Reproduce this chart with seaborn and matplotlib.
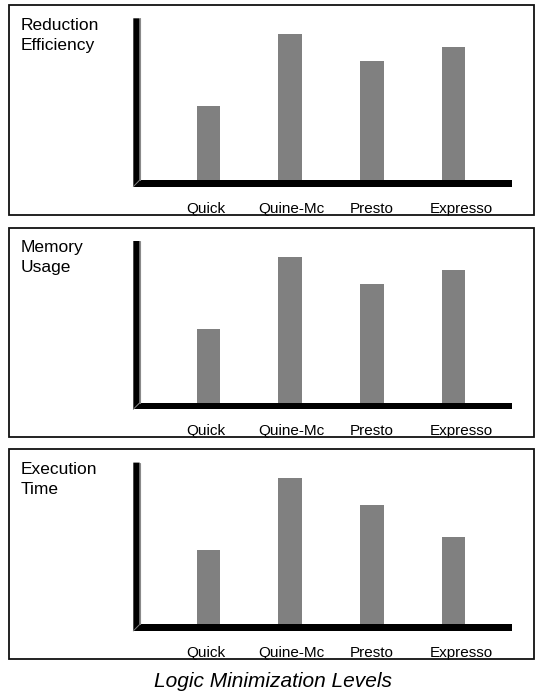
import matplotlib
matplotlib.use("Agg")
import matplotlib.pyplot as plt
from matplotlib.patches import Rectangle, Polygon
from matplotlib.lines import Line2D
from matplotlib.transforms import ScaledTranslation
import seaborn as sns
import pandas as pd

# ---- data -------------------------------------------------------------
levels = ["Quick", "Quine-Mc", "Presto", "Expresso"]
reduction_efficiency = [45.5, 90.5, 73.5, 82.0]
memory_usage = [45.5, 90.0, 73.5, 82.0]
execution_time = [46.0, 90.5, 73.5, 54.0]
panel_titles = ["Reduction\nEfficiency", "Memory\nUsage", "Execution\nTime"]
x_title = "Logic Minimization Levels"

# ---- style ------------------------------------------------------------
W, H = 535, 694
sns.set_theme(style="white")
plt.rcParams["font.family"] = ["Liberation Sans", "DejaVu Sans"]

BAR_GREY = "#808080"
INK = "#000000"

fig = plt.figure(figsize=(W / 100, H / 100), dpi=100)
fig.patch.set_facecolor("white")


def fx(px):
    return px / W


def fy(py):
    return 1 - py / H


panel_tops = [5, 227.7, 449.3]
series = [reduction_efficiency, memory_usage, execution_time]

# label nudges (pixels) for the category names under each panel
label_nudge = [-3, 1, 0, 8]

for top, title, vals in zip(panel_tops, panel_titles, series):
    # outer frame of the panel
    fig.patches.append(Rectangle((fx(9), fy(top + 209.5)), fx(534) - fx(9), 209.5 / H,
                                 transform=fig.transFigure, fill=False,
                                 lw=1.3, ec="#111111", zorder=1))

    base = top + 175.0      # floor surface
    ax_top = top + 13.3     # top of the back wall
    floor_bot = top + 181.6

    # plotting area spans from the wall to the far end of the floor
    ax = fig.add_axes([fx(140), fy(base), fx(512) - fx(140), (base - ax_top) / H])
    df = pd.DataFrame({"level": levels, "value": vals})
    sns.barplot(data=df, x="level", y="value", color=BAR_GREY, saturation=1,
                width=0.29, linewidth=0, ax=ax, zorder=3)
    ax.set_xlim(-0.839, 3.716)
    ax.set_ylim(0, 100)
    ax.set_facecolor("none")
    sns.despine(ax=ax, left=True, bottom=True)
    ax.set_yticks([])
    ax.set_xlabel("")
    ax.set_ylabel("")
    ax.tick_params(axis="x", length=0, pad=15.5, labelsize=11, colors="#000000")
    for lab, dx in zip(ax.get_xticklabels(), label_nudge):
        lab.set_transform(lab.get_transform() + ScaledTranslation(dx / 100, 0, fig.dpi_scale_trans))

    # back wall (vertical bar) and floor (horizontal bar)
    wall = Polygon([(fx(133.3), fy(ax_top)), (fx(139.6), fy(ax_top)),
                    (fx(139.6), fy(base)), (fx(133.3), fy(floor_bot))],
                   closed=True, transform=fig.transFigure, fc=INK, ec="none", zorder=4)
    floor = Polygon([(fx(133.3), fy(floor_bot)), (fx(512), fy(floor_bot)),
                     (fx(512), fy(base)), (fx(139.6), fy(base))],
                    closed=True, transform=fig.transFigure, fc=INK, ec="none", zorder=4)
    fig.patches.extend([wall, floor])
    fig.lines.append(Line2D([fx(140.2), fx(140.2)], [fy(ax_top), fy(base)],
                            transform=fig.transFigure, color="#8a8a8a", lw=0.8, zorder=5))
    fig.lines.append(Line2D([fx(133.3), fx(139.8)], [fy(floor_bot), fy(base)],
                            transform=fig.transFigure, color="#777777", lw=0.7, zorder=5))

    # panel title in the upper-left corner
    fig.text(fx(21), fy(top + 12.5), title, ha="left", va="top",
             fontsize=12.5, linespacing=1.42, color="#000000")

fig.text(fx(273), fy(687), x_title, ha="center", va="baseline",
         fontsize=15, style="italic", color="#000000")

fig.savefig("out.png", dpi=100)
